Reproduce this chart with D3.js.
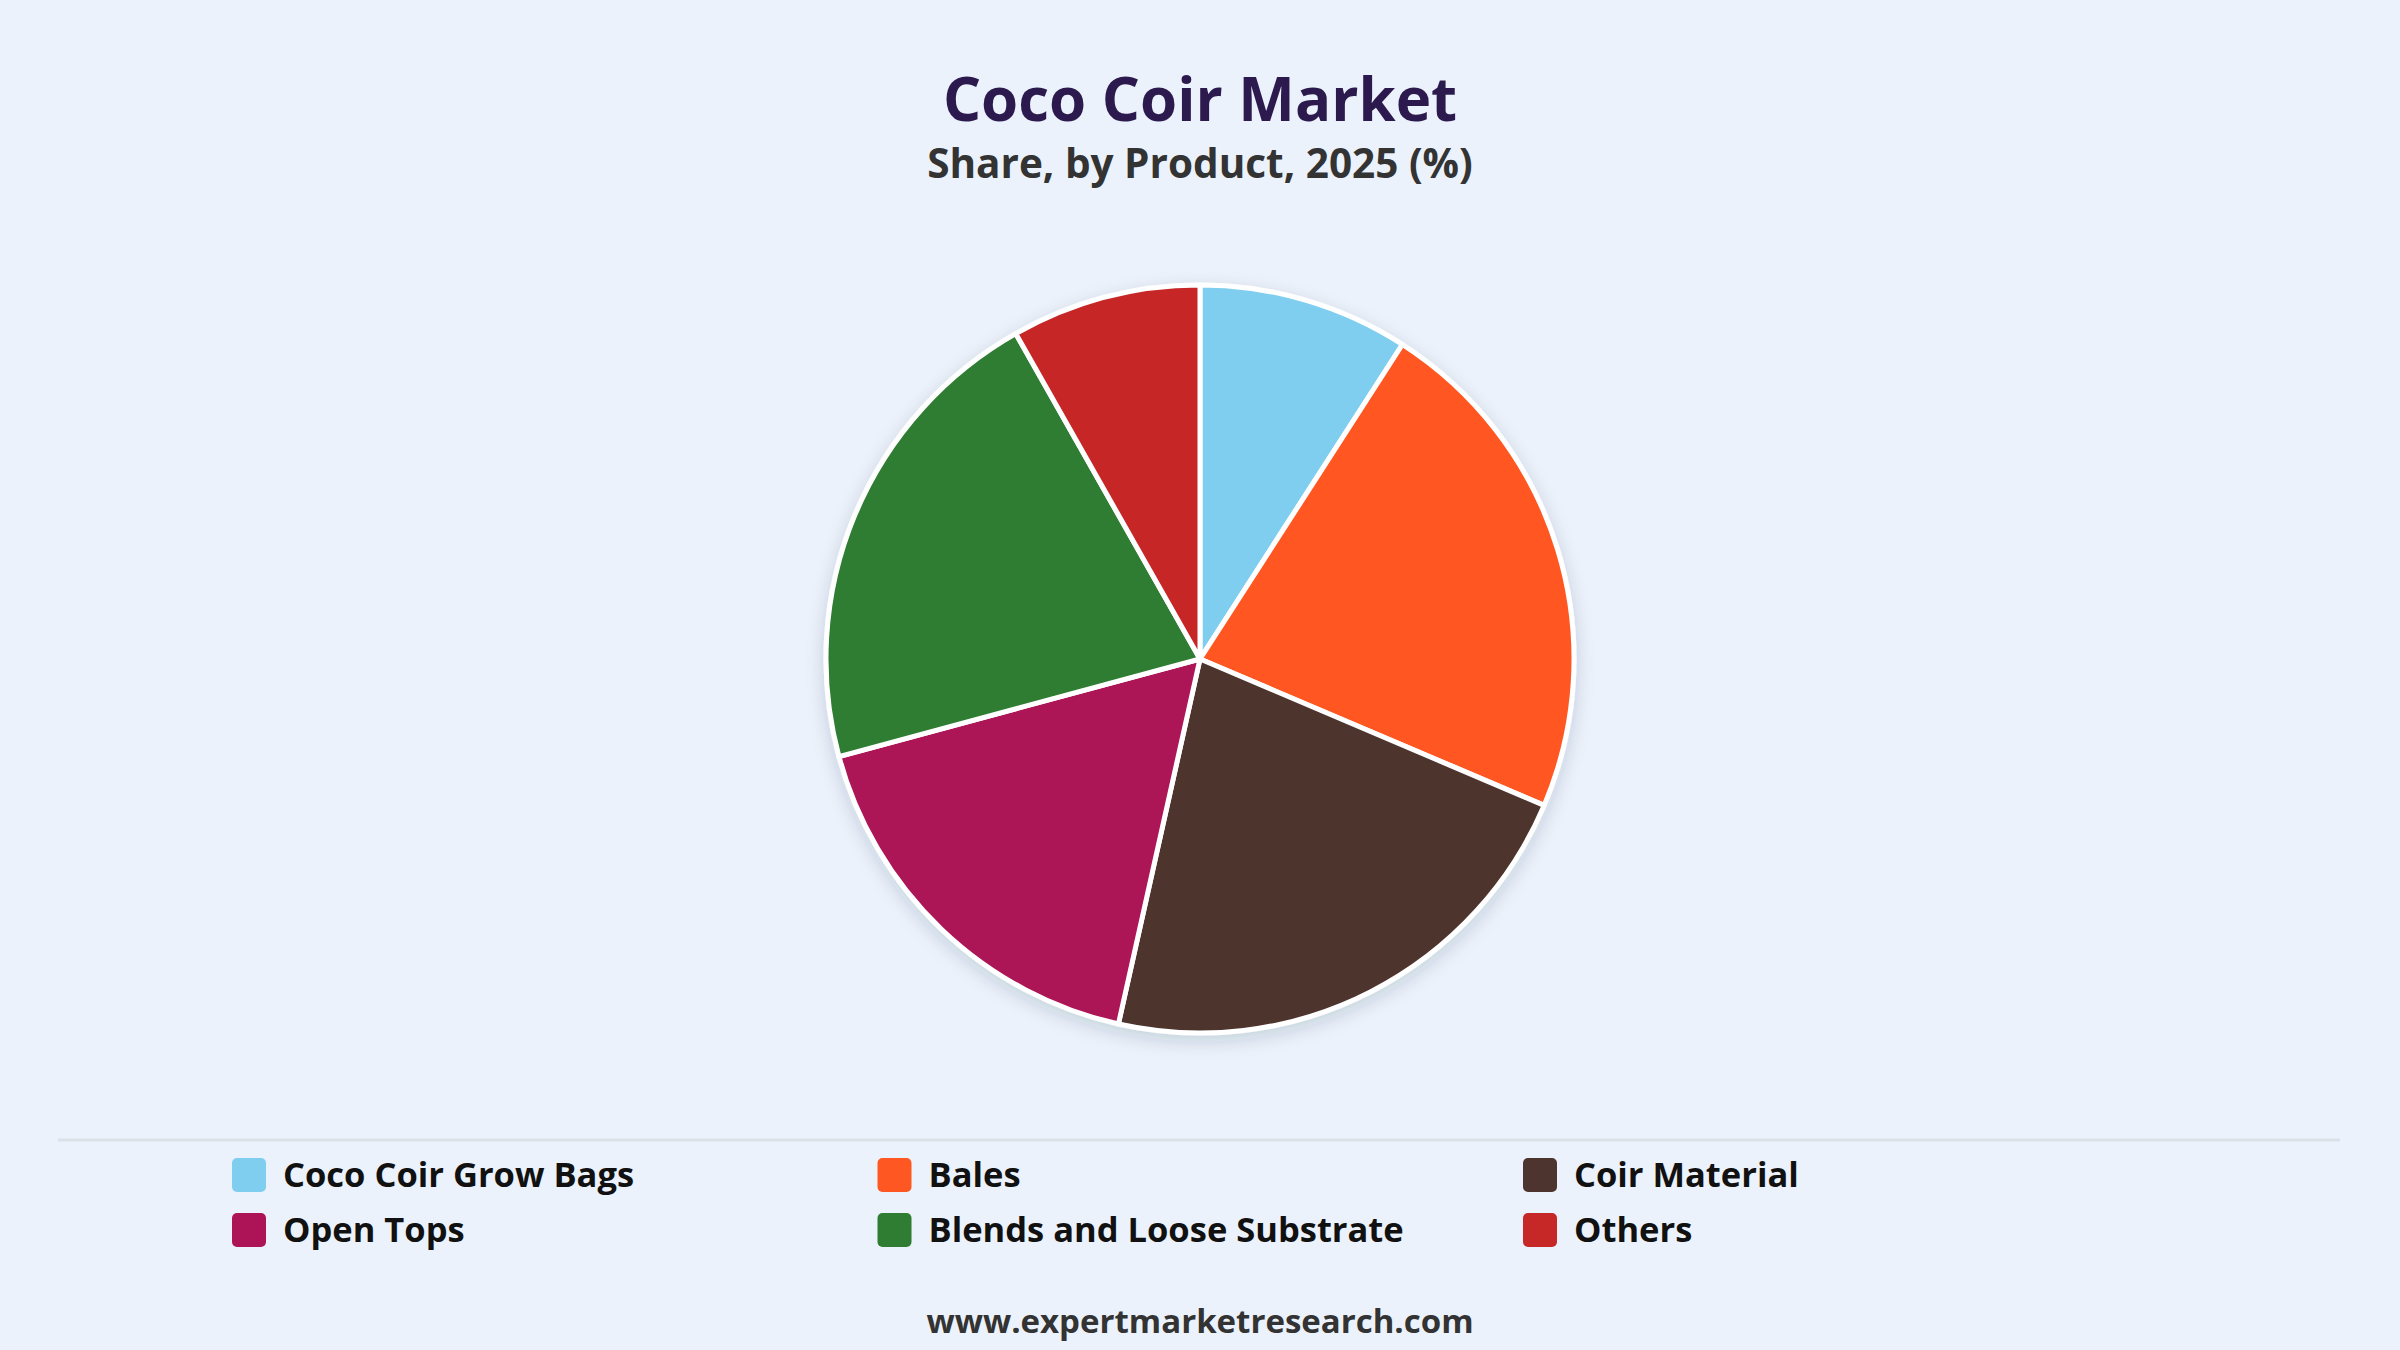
<!DOCTYPE html>
<html>
<head>
<meta charset="utf-8">
<script src="https://cdn.jsdelivr.net/npm/d3@7"></script>
<style>
  html, body { margin: 0; padding: 0; background: #EBF2FB; }
  svg { display: block; }
  text { font-family: "Open Sans", "Noto Sans", "DejaVu Sans", sans-serif; font-weight: 700; }
</style>
</head>
<body>
<svg id="chart" width="2400" height="1350"></svg>
<script>
const categories = ["Coco Coir Grow Bags", "Bales", "Coir Material", "Open Tops", "Blends and Loose Substrate", "Others"];
const shares = [9.1, 22.3, 22.1, 17.3, 21.0, 8.2];
const colors = ["#7FCEF0", "#FF5722", "#4E342E", "#AD1457", "#2E7D32", "#C62828"];
const titleText = "Coco Coir Market";
const subtitleText = "Share, by Product, 2025 (%)";
const footerText = "www.expertmarketresearch.com";

const W = 2400, H = 1350;
const svg = d3.select("#chart");

const defs = svg.append("defs");
const f = defs.append("filter").attr("id", "shadow").attr("x", "-20%").attr("y", "-20%").attr("width", "140%").attr("height", "140%");
f.append("feDropShadow").attr("dx", 0).attr("dy", 6).attr("stdDeviation", 9)
  .attr("flood-color", "#1a2a40").attr("flood-opacity", 0.16);

// Titles
svg.append("text").attr("x", W / 2).attr("y", 121).attr("text-anchor", "middle")
  .attr("font-size", 60).attr("font-weight", 800).attr("fill", "#2C1A4E").text(titleText);
svg.append("text").attr("x", W / 2).attr("y", 178).attr("text-anchor", "middle")
  .attr("font-size", 40.5).attr("fill", "#333333").text(subtitleText);

// Pie
const cx = 1200, cy = 659, R = 374;
const data = categories.map((c, i) => ({ name: c, value: shares[i], color: colors[i] }));
const pie = d3.pie().value(d => d.value).sort(null).startAngle(0).endAngle(2 * Math.PI);
const arc = d3.arc().innerRadius(0).outerRadius(R);
const g = svg.append("g").attr("transform", `translate(${cx},${cy})`);
g.append("g").attr("filter", "url(#shadow)")
  .selectAll("path").data(pie(data)).join("path")
  .attr("d", arc).attr("fill", d => d.data.color)
  .attr("stroke", "#ffffff").attr("stroke-width", 5).attr("stroke-linejoin", "round");

// Separator
svg.append("line").attr("x1", 58).attr("x2", 2340).attr("y1", 1140).attr("y2", 1140)
  .attr("stroke", "#DCE1E7").attr("stroke-width", 3);

// Legend
const colX = d3.scalePoint().domain([0, 1, 2]).range([232, 1523]);
const rowY = d3.scalePoint().domain([0, 1]).range([1175, 1230]);
const leg = svg.append("g").selectAll("g").data(data).join("g")
  .attr("transform", (d, i) => `translate(${colX(i % 3)},${rowY(Math.floor(i / 3))})`);
leg.append("rect").attr("x", 0).attr("y", -17).attr("width", 34).attr("height", 34)
  .attr("rx", 5).attr("fill", d => d.color);
leg.append("text").attr("x", 51).attr("y", 12).attr("font-size", 34.5)
  .attr("fill", "#111111").text(d => d.name);

// Footer
svg.append("text").attr("x", W / 2).attr("y", 1333).attr("text-anchor", "middle")
  .attr("font-size", 33).attr("fill", "#333333").text(footerText);
</script>
</body>
</html>
